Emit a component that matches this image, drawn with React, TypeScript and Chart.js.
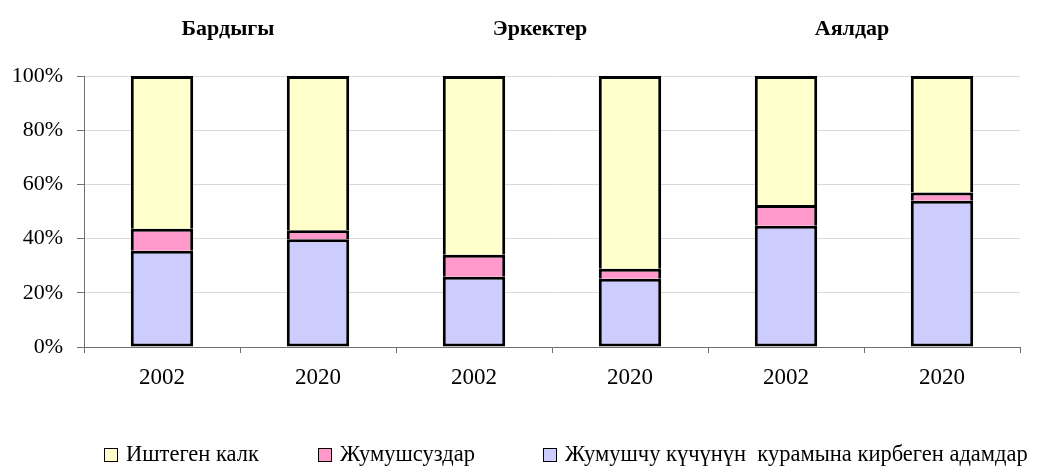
import React, { useEffect, useRef } from "react";
import { Chart, registerables } from "chart.js";

Chart.register(...registerables);

const CATEGORIES = ["2002", "2020", "2002", "2020", "2002", "2020"];
const GROUPS = ["Бардыгы", "Эркектер", "Аялдар"];
const NOT_IN_LABOUR = [35.5, 39.8, 25.9, 25.2, 44.7, 54.0];
const UNEMPLOYED = [8.1, 3.3, 8.1, 3.7, 7.7, 3.0];
const EMPLOYED = [56.4, 56.9, 66.0, 71.1, 47.6, 43.0];
const Y_TICKS = [0, 20, 40, 60, 80, 100];

const FONT = "'Liberation Serif', 'Times New Roman', serif";

const LEGEND_X = [104, 318, 543];
const LEGEND_Y = 455;

const groupTitles = {
  id: "groupTitles",
  afterDraw(chart: any) {
    const ctx = chart.ctx;
    const x = chart.scales.x;
    ctx.save();
    ctx.font = `bold 22px ${FONT}`;
    ctx.fillStyle = "#000";
    ctx.textAlign = "center";
    ctx.textBaseline = "middle";
    GROUPS.forEach((g, i) => {
      const cx = (x.getPixelForValue(2 * i) + x.getPixelForValue(2 * i + 1)) / 2 - 12;
      ctx.fillText(g, cx, 29);
    });
    ctx.restore();
  },
};

const customLegend = {
  id: "customLegend",
  afterDraw(chart: any) {
    const ctx = chart.ctx;
    const ds = chart.data.datasets.slice().reverse();
    ctx.save();
    ctx.font = `22.5px ${FONT}`;
    ctx.textBaseline = "middle";
    ctx.textAlign = "left";
    ds.forEach((d: any, i: number) => {
      const bx = LEGEND_X[i];
      ctx.fillStyle = d.backgroundColor;
      ctx.fillRect(bx, LEGEND_Y - 7, 14, 14);
      ctx.strokeStyle = "#000";
      ctx.lineWidth = 1;
      ctx.strokeRect(bx + 0.5, LEGEND_Y - 6.5, 13, 13);
      ctx.fillStyle = "#000";
      ctx.fillText(d.label, bx + 22, LEGEND_Y);
    });
    ctx.restore();
  },
};

export default function App() {
  const ref = useRef<HTMLCanvasElement | null>(null);
  useEffect(() => {
    if (!ref.current) return;
    const chart = new Chart(ref.current, {
      type: "bar",
      data: {
        labels: CATEGORIES,
        datasets: [
          {
            label: "Жумушчу күчүнүн  курамына кирбеген адамдар",
            data: NOT_IN_LABOUR,
            backgroundColor: "#CCCCFF",
            borderColor: "#000",
            borderWidth: 3,
            borderSkipped: false,
          },
          {
            label: "Жумушсуздар",
            data: UNEMPLOYED,
            backgroundColor: "#FF99CC",
            borderColor: "#000",
            borderWidth: 3,
            borderSkipped: "start",
          },
          {
            label: "Иштеген калк",
            data: EMPLOYED,
            backgroundColor: "#FFFFCC",
            borderColor: "#000",
            borderWidth: 3,
            borderSkipped: "start",
          },
        ],
      },
      options: {
        animation: false,
        responsive: true,
        maintainAspectRatio: false,
        layout: { padding: { left: 0, right: 24, top: 76, bottom: 67 } },
        datasets: { bar: { barPercentage: 0.4, categoryPercentage: 1 } },
        plugins: { legend: { display: false }, tooltip: { enabled: false }, title: { display: false } },
        scales: {
          x: {
            stacked: true,
            afterFit(scale: any) {
              scale.height = 52;
            },
            grid: {
              offset: true,
              drawOnChartArea: false,
              drawTicks: true,
              tickLength: 6,
              tickColor: "#707070",
            },
            border: { color: "#707070", width: 1 },
            ticks: { color: "#000", font: { family: FONT, size: 23 }, padding: 11 },
          },
          y: {
            stacked: true,
            min: 0,
            max: 100,
            afterFit(scale: any) {
              scale.width = 84;
            },
            afterBuildTicks(scale: any) {
              scale.ticks = Y_TICKS.map((v) => ({ value: v }));
            },
            grid: { color: "#d9d9d9", tickColor: "#707070", tickLength: 7, drawTicks: true },
            border: { color: "#707070", width: 1 },
            ticks: {
              color: "#000",
              font: { family: FONT, size: 22 },
              padding: 14,
              callback: (v: any) => `${v}%`,
            },
          },
        },
      },
      plugins: [groupTitles, customLegend],
    });
    return () => chart.destroy();
  }, []);
  return (
    <div style={{ position: "fixed", left: 0, top: 0, width: 1044, height: 466, background: "#fff" }}>
      <canvas ref={ref} />
    </div>
  );
}
